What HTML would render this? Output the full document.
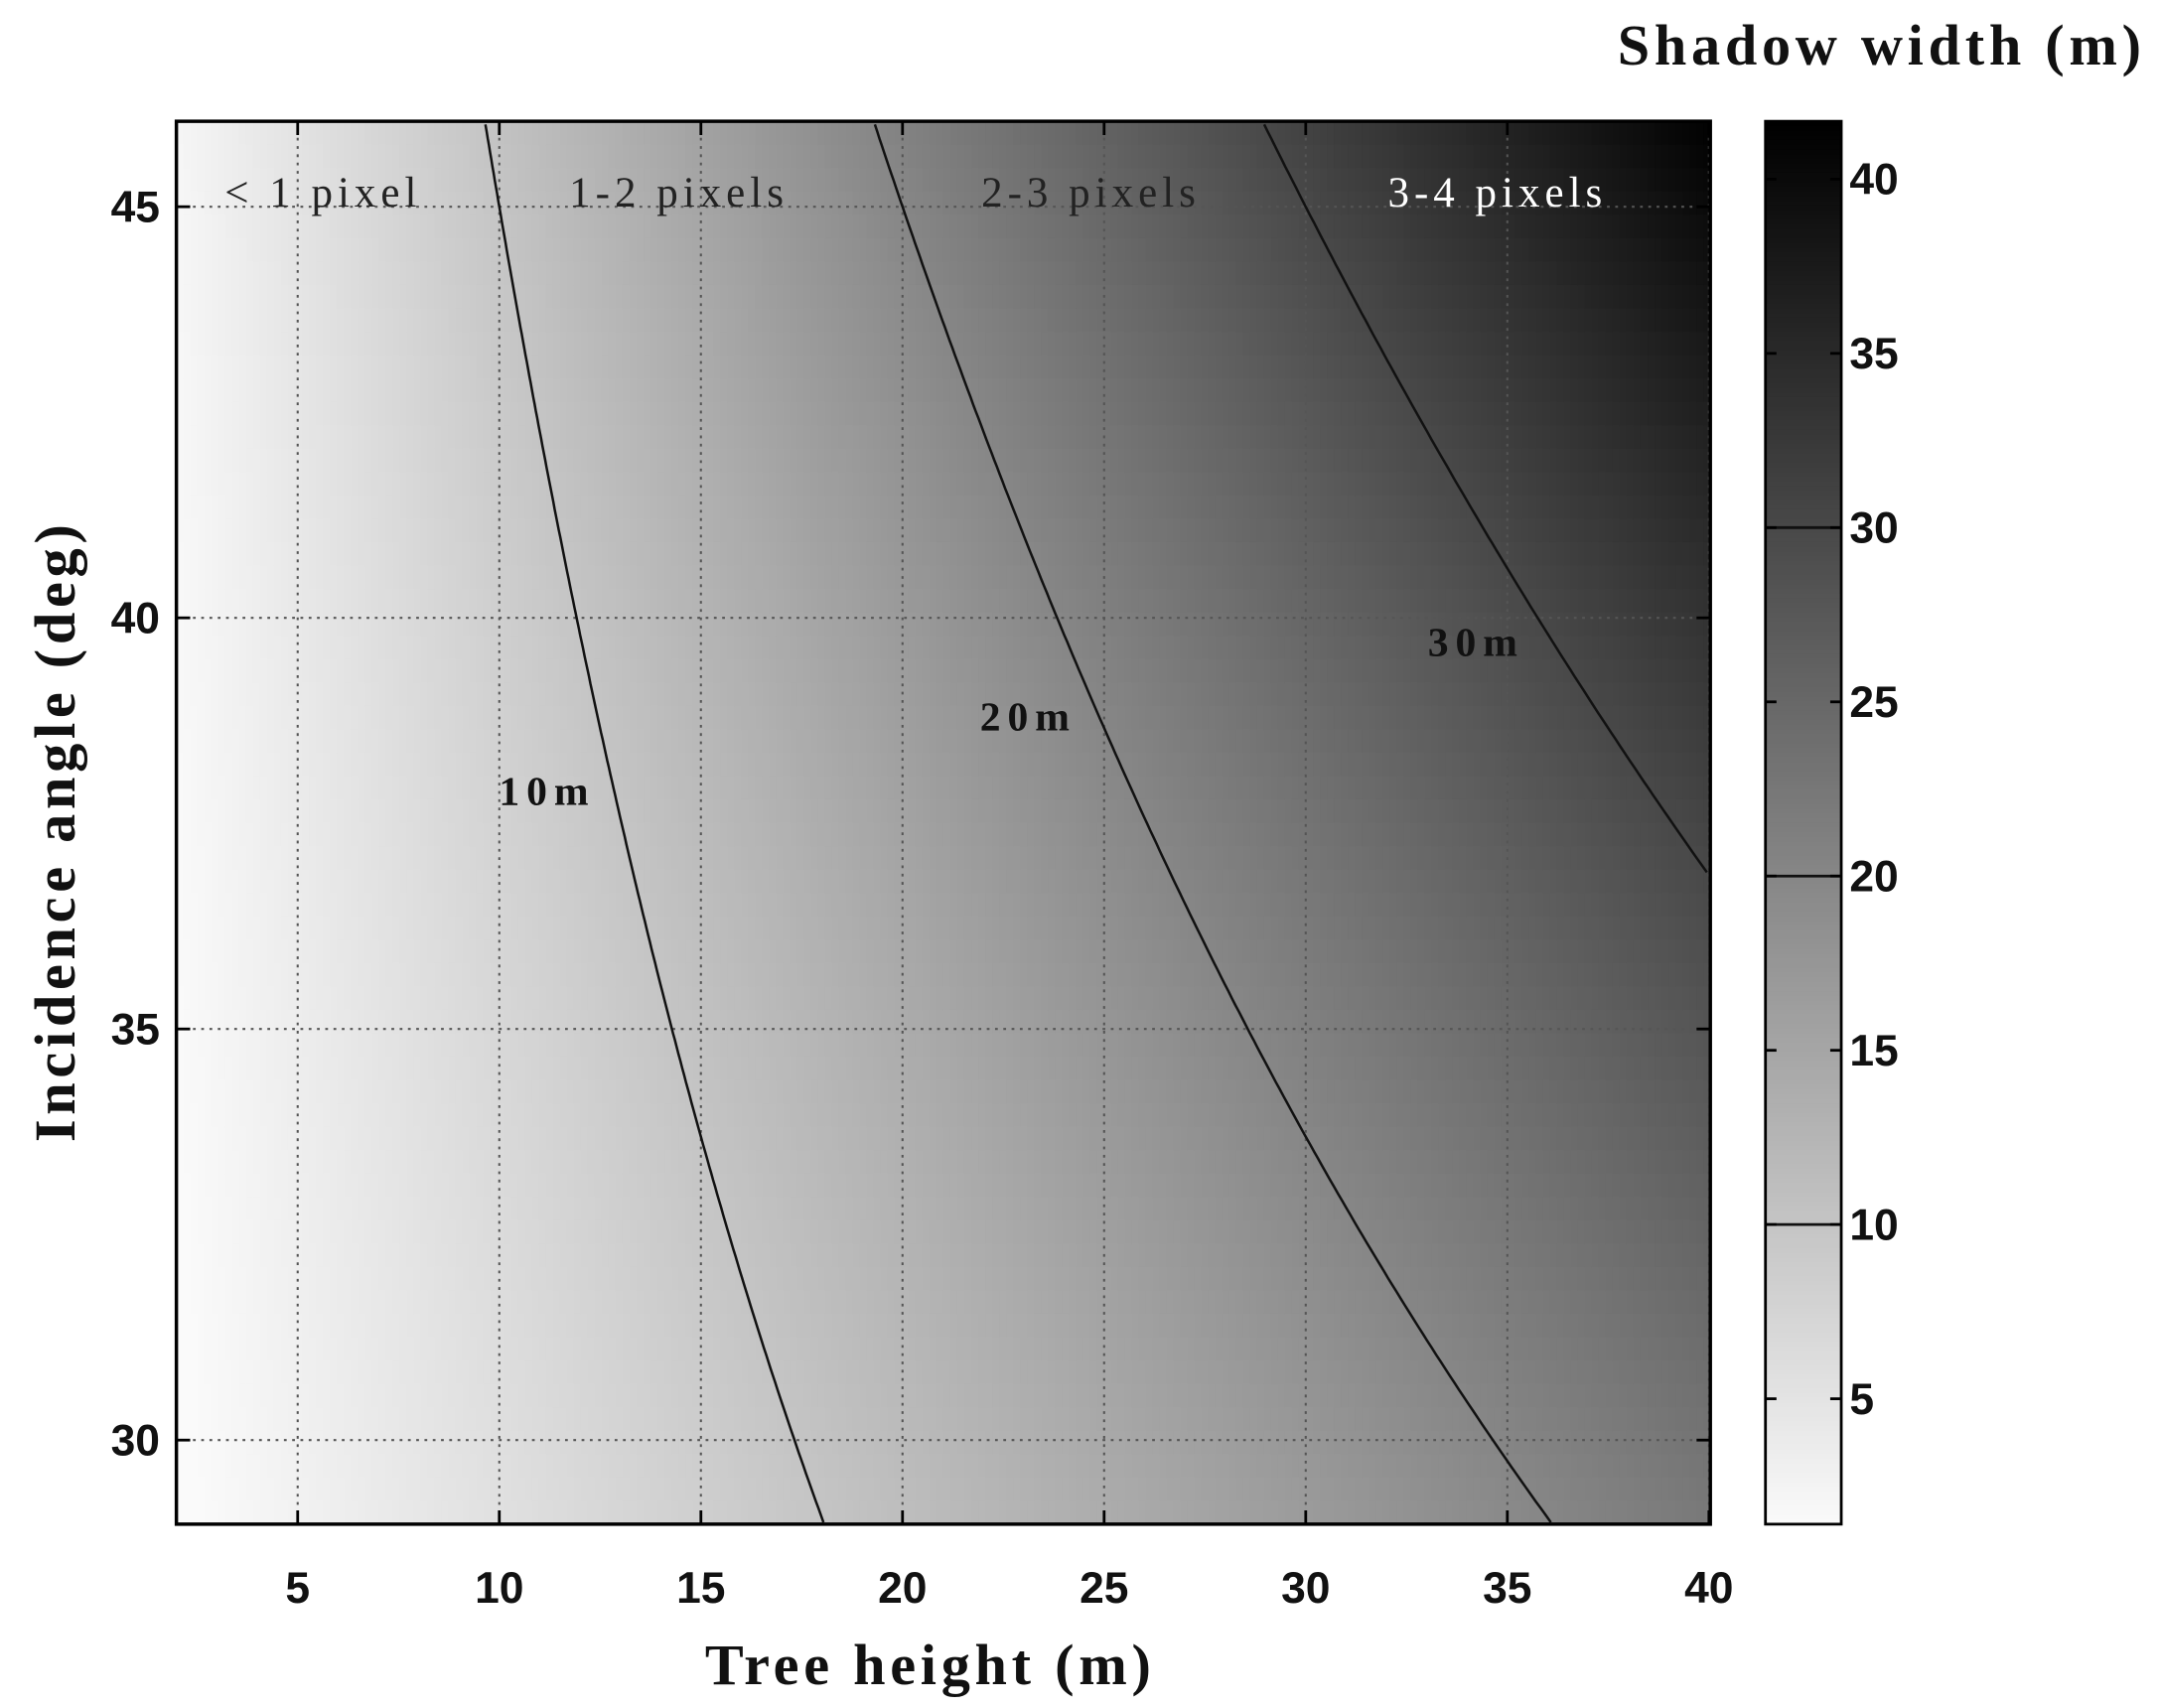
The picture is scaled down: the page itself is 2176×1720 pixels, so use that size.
<!DOCTYPE html>
<html><head><meta charset="utf-8"><style>
html,body{margin:0;padding:0;background:#fff;}
svg{display:block;}
.tk{font-family:"Liberation Sans",sans-serif;font-weight:bold;font-size:32px;fill:#111;}
.lab{font-family:"Liberation Serif",serif;font-weight:bold;font-size:42px;fill:#111;letter-spacing:3.4px;}
.reg{font-family:"Liberation Serif",serif;font-size:31px;letter-spacing:3.6px;}
.cl{font-family:"Liberation Serif",serif;font-size:30px;fill:#111;letter-spacing:5px;font-weight:bold;}
</style></head><body>
<svg id="s" width="2176" height="1720" viewBox="0 0 1568 1239.4" xmlns="http://www.w3.org/2000/svg">
<g id="heat"></g>
<g id="grid" stroke="#555" stroke-width="1.5" stroke-dasharray="2,4" fill="none"></g>
<g id="cont" stroke="#111" stroke-width="1.8" fill="none"></g>
<rect x="128" y="88" width="1113" height="1018" fill="none" stroke="#000" stroke-width="2.5"/>
<g id="ticks" stroke="#000" stroke-width="2"></g>
<g id="cb"></g>
<rect x="1281" y="88" width="55" height="1018" fill="none" stroke="#000" stroke-width="2"/>
<text class="reg" x="163" y="150" fill="#222">&lt; 1 pixel</text>
<text class="reg" x="413" y="150" fill="#222">1-2 pixels</text>
<text class="reg" x="712" y="150" fill="#222">2-3 pixels</text>
<text class="reg" x="1007" y="150" fill="#fff">3-4 pixels</text>
<text class="cl" x="362" y="584">10m</text>
<text class="cl" x="711" y="530">20m</text>
<text class="cl" x="1036" y="476">30m</text>
<text class="lab" x="675" y="1222" text-anchor="middle">Tree height (m)</text>
<text class="lab" transform="translate(54,603) rotate(-90)" text-anchor="middle">Incidence angle (deg)</text>
<text class="lab" x="1557" y="47" text-anchor="end">Shadow width (m)</text>
</svg>
<script>
var NS="http://www.w3.org/2000/svg";
function el(p,t,a){var e=document.createElementNS(NS,t);for(var k in a)e.setAttribute(k,a[k]);p.appendChild(e);return e;}
var X0=128,X1=1241,Y0=88,Y1=1106;
function px(h){return 216+(h-5)*29.257;}
function py(a){return 150+(45-a)*59.667;}
var vmin=1.4,vmax=41.66;
function g(v){var t=(v-vmin)/(vmax-vmin);t=Math.max(0,Math.min(1,t));return Math.round(250*(1-t));}
var heat=document.getElementById('heat');
var NC=220,NR=60,w=(X1-X0)/NC,hh=(Y1-Y0)/NR;
for(var i=0;i<NC;i++)for(var j=0;j<NR;j++){
 var xc=X0+(i+0.5)*w,yc=Y0+(j+0.5)*hh;
 var h=5+(xc-216)/29.257,a=45-(yc-150)/59.667;
 var c=g(h*Math.tan(a*Math.PI/180));
 el(heat,'rect',{x:(X0+i*w).toFixed(2),y:(Y0+j*hh).toFixed(2),width:(w+0.6).toFixed(2),height:(hh+0.6).toFixed(2),fill:'rgb('+c+','+c+','+c+')'});
}
var grid=document.getElementById('grid'),ticks=document.getElementById('ticks'),s=document.getElementById('s');
for(var h=5;h<=40;h+=5){var x=px(h);el(grid,'line',{x1:x,y1:Y0,x2:x,y2:Y1});
 el(ticks,'line',{x1:x,y1:Y1,x2:x,y2:Y1-10});el(ticks,'line',{x1:x,y1:Y0,x2:x,y2:Y0+10});
 var t=el(s,'text',{x:x,y:1163,'class':'tk','text-anchor':'middle'});t.textContent=h;}
for(var a=30;a<=45;a+=5){var y=py(a);el(grid,'line',{x1:X0,y1:y,x2:X1,y2:y});
 el(ticks,'line',{x1:X0,y1:y,x2:X0+10,y2:y});el(ticks,'line',{x1:X1,y1:y,x2:X1-10,y2:y});
 var t=el(s,'text',{x:116,y:y+11,'class':'tk','text-anchor':'end'});t.textContent=a;}
var cont=document.getElementById('cont');
[10,20,30].forEach(function(v){var d='';for(var k=0;k<=200;k++){var a=29+(46-29)*k/200;var h=v/Math.tan(a*Math.PI/180);
 var x=px(h),y=py(a);if(x>X1){continue;}d+=(d?'L':'M')+x.toFixed(1)+','+y.toFixed(1);}
 el(cont,'path',{d:d});});
var cb=document.getElementById('cb');
function cy(v){return 130+(40-v)*25.286;}
for(var j=0;j<300;j++){var y=88+j*(1018/300);var v=40-(y+1.7-130)/25.286;var c=g(v);
 el(cb,'rect',{x:1281,y:y.toFixed(2),width:55,height:(1018/300+0.6).toFixed(2),fill:'rgb('+c+','+c+','+c+')'});}
[10,20,30].forEach(function(v){el(cb,'line',{x1:1281,x2:1336,y1:cy(v),y2:cy(v),stroke:'#111','stroke-width':2});});
for(var v=5;v<=40;v+=5){var y=cy(v);el(cb,'line',{x1:1336,x2:1328,y1:y,y2:y,stroke:'#000','stroke-width':2});
 el(cb,'line',{x1:1281,x2:1289,y1:y,y2:y,stroke:'#000','stroke-width':2});
 var t=el(s,'text',{x:1342,y:y+11,'class':'tk'});t.textContent=v;}
</script>
</body></html>
